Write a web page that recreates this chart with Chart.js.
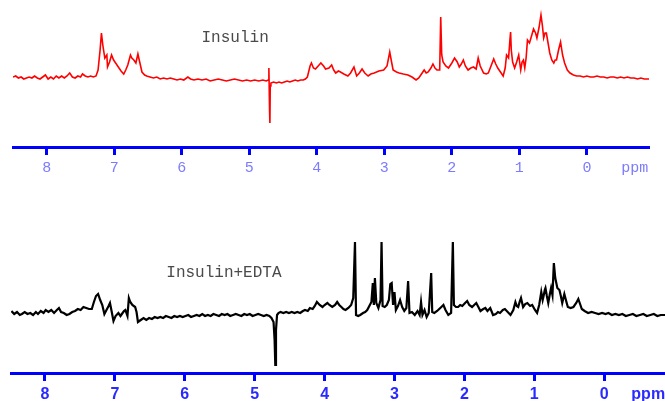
<!DOCTYPE html>
<html>
<head>
<meta charset="utf-8">
<script src="https://cdn.jsdelivr.net/npm/chart.js@4.4.1/dist/chart.umd.min.js"></script>
<style>
  html, body { margin: 0; padding: 0; background: #fff; }
  #wrap { position: relative; width: 665px; height: 401px; overflow: hidden; }
  #top { position: absolute; left: 0; top: 0; }
  #bottom { position: absolute; left: 0; top: 200px; }
</style>
</head>
<body>
<div id="wrap">
  <canvas id="top" width="665" height="200"></canvas>
  <canvas id="bottom" width="665" height="201"></canvas>
</div>
<script>
// chemical shift axis ticks (ppm)
const tickValues = [8, 7, 6, 5, 4, 3, 2, 1, 0];

// Insulin spectrum, intensity in arbitrary units
const insulinPpm = [8.50, 8.46, 8.42, 8.38, 8.34, 8.30, 8.26, 8.22, 8.18, 8.14, 8.10, 8.06, 8.02, 7.98, 7.94, 7.90, 7.86, 7.82, 7.78, 7.74,
  7.70, 7.66, 7.62, 7.58, 7.54, 7.50, 7.47, 7.43, 7.39, 7.35, 7.31, 7.27, 7.24, 7.21, 7.19, 7.17, 7.14, 7.11, 7.10, 7.07,
  7.04, 7.01, 6.98, 6.94, 6.90, 6.86, 6.83, 6.80, 6.76, 6.74, 6.71, 6.68, 6.65, 6.62, 6.59, 6.55, 6.52, 6.47, 6.42, 6.37,
  6.32, 6.27, 6.22, 6.17, 6.12, 6.07, 6.02, 5.97, 5.91, 5.87, 5.82, 5.76, 5.70, 5.64, 5.58, 5.52, 5.46, 5.40, 5.34, 5.28,
  5.22, 5.16, 5.10, 5.04, 4.98, 4.92, 4.86, 4.80, 4.75, 4.72, 4.71, 4.70, 4.695, 4.69, 4.68, 4.64, 4.60, 4.56, 4.52, 4.48,
  4.44, 4.40, 4.36, 4.32, 4.28, 4.24, 4.20, 4.17, 4.14, 4.10, 4.08, 4.05, 4.02, 3.98, 3.94, 3.90, 3.87, 3.82, 3.78, 3.75,
  3.72, 3.68, 3.65, 3.60, 3.54, 3.50, 3.45, 3.41, 3.37, 3.33, 3.29, 3.24, 3.20, 3.15, 3.08, 3.01, 2.96, 2.92, 2.89, 2.87,
  2.82, 2.78, 2.72, 2.65, 2.59, 2.53, 2.49, 2.46, 2.41, 2.38, 2.35, 2.31, 2.28, 2.25, 2.22, 2.18, 2.165, 2.15, 2.13, 2.09,
  2.05, 2.00, 1.96, 1.92, 1.89, 1.86, 1.83, 1.80, 1.76, 1.72, 1.68, 1.64, 1.61, 1.58, 1.53, 1.49, 1.46, 1.42, 1.38, 1.35,
  1.32, 1.28, 1.24, 1.21, 1.19, 1.16, 1.14, 1.13, 1.12, 1.10, 1.07, 1.04, 1.01, 0.98, 0.96, 0.94, 0.92, 0.90, 0.88, 0.85,
  0.82, 0.79, 0.76, 0.74, 0.71, 0.68, 0.66, 0.64, 0.62, 0.60, 0.57, 0.55, 0.52, 0.49, 0.47, 0.45, 0.42, 0.39, 0.36, 0.33,
  0.29, 0.25, 0.20, 0.15, 0.10, 0.05, 0.00, -0.05, -0.10, -0.15, -0.20, -0.25, -0.30, -0.35, -0.40, -0.45, -0.50, -0.55, -0.60, -0.65,
  -0.70, -0.75, -0.80, -0.85, -0.92];
const insulinVal = [3, 4, 2, 3, 1, 2, 3, 2, 4, 2, 1, 3, 5, 1, 3, 1, 4, 2, 4, 2,
  4, 7, 3, 2, 4, 3, 6, 4, 3, 4, 3, 4, 10, 30, 47, 35, 22, 25, 13, 18,
  25, 20, 17, 13, 9, 6, 10, 15, 25, 22, 20, 17, 26, 17, 8, 5, 4, 3, 2, 3,
  1, 2, 1, 2, 1, 0, 1, 0, 3, 1, 0, 1, 0, 1, -1, 0, 1, 0, -1, 0,
  1, 0, -1, 0, -1, 0, -1, 0, -1, 0, 12, -30, -43, -6, -3, -2, -3, -2, -3, -2,
  -1, -2, -1, 0, -1, 0, 0, 1, 3, 14, 17, 12, 11, 14, 17, 14, 11, 12, 15, 10,
  7, 9, 8, 6, 4, 7, 13, 4, 7, 11, 7, 4, 6, 7, 9, 10, 14, 28, 17, 10,
  8, 7, 6, 5, 3, 0, 2, 5, 10, 7, 8, 12, 16, 12, 10, 10, 63, 25, 18, 14,
  12, 17, 22, 18, 13, 16, 20, 14, 10, 12, 13, 11, 22, 14, 7, 6, 7, 14, 21, 16,
  12, 8, 4, 12, 25, 22, 40, 48, 30, 18, 12, 18, 25, 10, 18, 20, 12, 22, 40, 37,
  44, 51, 47, 42, 52, 65, 55, 42, 47, 47, 35, 27, 20, 17, 20, 20, 30, 38, 25, 17,
  10, 7, 5, 4, 4, 3, 4, 3, 3, 4, 3, 3, 2, 3, 3, 2, 3, 2, 3, 2,
  2, 1, 2, 1, 1];

// Insulin+EDTA spectrum (black trace)
const edtaPpm = [8.48, 8.44, 8.40, 8.36, 8.33, 8.29, 8.25, 8.21, 8.17, 8.13, 8.10, 8.06, 8.02, 7.99, 7.95, 7.91, 7.87, 7.83, 7.80, 7.77,
  7.73, 7.69, 7.65, 7.61, 7.57, 7.53, 7.49, 7.45, 7.41, 7.37, 7.33, 7.30, 7.27, 7.24, 7.21, 7.18, 7.15, 7.12, 7.09, 7.07,
  7.05, 7.02, 6.99, 6.95, 6.92, 6.90, 6.87, 6.85, 6.82, 6.80, 6.78, 6.75, 6.71, 6.69, 6.67, 6.63, 6.59, 6.55, 6.51, 6.47,
  6.43, 6.39, 6.35, 6.31, 6.27, 6.23, 6.19, 6.15, 6.11, 6.07, 6.03, 5.99, 5.95, 5.91, 5.87, 5.83, 5.79, 5.75, 5.71, 5.67,
  5.63, 5.59, 5.55, 5.51, 5.47, 5.43, 5.39, 5.35, 5.31, 5.27, 5.23, 5.19, 5.15, 5.11, 5.07, 5.03, 4.99, 4.95, 4.91, 4.87,
  4.83, 4.79, 4.76, 4.73, 4.715, 4.705, 4.695, 4.68, 4.66, 4.63, 4.59, 4.55, 4.51, 4.47, 4.43, 4.39, 4.35, 4.31, 4.28, 4.24,
  4.21, 4.17, 4.14, 4.11, 4.07, 4.03, 4.00, 3.96, 3.93, 3.89, 3.85, 3.82, 3.79, 3.76, 3.73, 3.70, 3.66, 3.62, 3.59, 3.565,
  3.55, 3.52, 3.49, 3.45, 3.42, 3.39, 3.36, 3.33, 3.31, 3.295, 3.28, 3.26, 3.23, 3.20, 3.185, 3.17, 3.14, 3.11, 3.08, 3.06,
  3.04, 3.02, 3.00, 2.98, 2.95, 2.92, 2.89, 2.86, 2.83, 2.805, 2.785, 2.75, 2.71, 2.67, 2.64, 2.62, 2.60, 2.57, 2.54, 2.51,
  2.475, 2.46, 2.43, 2.39, 2.36, 2.33, 2.30, 2.27, 2.23, 2.19, 2.165, 2.15, 2.12, 2.09, 2.06, 2.03, 1.99, 1.96, 1.93, 1.89,
  1.86, 1.83, 1.80, 1.77, 1.73, 1.70, 1.67, 1.63, 1.59, 1.55, 1.52, 1.49, 1.45, 1.42, 1.38, 1.34, 1.30, 1.27, 1.25, 1.23,
  1.21, 1.19, 1.16, 1.13, 1.10, 1.06, 1.03, 0.99, 0.96, 0.93, 0.90, 0.88, 0.87, 0.85, 0.84, 0.82, 0.80, 0.78, 0.76, 0.74,
  0.72, 0.70, 0.67, 0.64, 0.62, 0.60, 0.57, 0.54, 0.52, 0.48, 0.44, 0.40, 0.37, 0.34, 0.32, 0.28, 0.23, 0.18, 0.13, 0.08,
  0.03, -0.02, -0.06, -0.11, -0.16, -0.21, -0.26, -0.31, -0.36, -0.41, -0.46, -0.51, -0.56, -0.61, -0.66, -0.71, -0.76, -0.81, -0.87];
const edtaVal = [2, -1, 1, -2, -1, 1, -1, 0, -2, 1, -1, 2, 0, 3, 1, 3, 0, 3, 5, 1,
  0, -2, -1, 1, 2, 4, 3, 6, 5, 4, 4, 11, 17, 19, 13, 8, -1, 3, 7, 10,
  3, -8, -3, 0, -3, -1, 2, 3, -3, 15, 11, 8, 6, 1, -9, -7, -5, -7, -5, -6,
  -4, -5, -4, -5, -3, -4, -5, -3, -4, -3, -4, -3, -2, -4, -3, -2, -3, -1, -3, -2,
  -3, -1, -2, -3, -1, -2, -1, -3, -2, -1, -2, -3, -1, -2, -1, -3, -2, -1, -2, -3,
  -2, -3, -5, -9, -27, -52, -17, -2, 0, 1, 0, 1, 0, 1, 0, 1, 0, 2, 3, 2,
  5, 4, 7, 11, 8, 6, 8, 10, 8, 6, 8, 11, 8, 6, 4, 3, 5, 8, 15, 71,
  -2, -3, -2, 0, 1, 3, 7, 11, 30, 8, 35, 10, 5, 13, 71, 7, 6, 8, 13, 29,
  30, 8, 21, 3, 7, 13, 6, 2, 5, 32, 0, 1, -2, 2, -2, 11, -2, 3, -4, 0,
  40, 1, 0, 2, 4, 6, 8, 3, -2, 0, 71, 8, 6, 6, 8, 7, 10, 12, 8, 6,
  8, 10, 6, 2, 4, 5, 2, 5, -2, -1, 1, 0, 3, 4, 1, -2, 3, 11, 7, 6,
  11, 15, 6, 9, 10, 7, 8, 3, 0, 8, 21, 13, 16, 23, 25, 17, 10, 18, 25, 18,
  50, 35, 25, 23, 17, 10, 19, 11, 6, 5, 6, 10, 14, 8, 4, 2, 0, 1, 0, -1,
  0, -1, 0, -2, -1, -2, -1, -3, -2, -1, -3, -2, -1, -3, -2, -1, -3, -2, -2];

const toPoints = (xs, ys) => xs.map((x, i) => ({ x: x, y: ys[i] }));

// draws the spectrum names and the "ppm" unit as canvas text
const labelPlugin = {
  id: 'specLabels',
  afterDraw(chart, args, opts) {
    const { ctx, scales } = chart;
    ctx.save();
    (opts.items || []).forEach(item => {
      const px = scales.x.getPixelForValue(item.ppm);
      const py = item.val !== undefined ? scales.y.getPixelForValue(item.val) : chart.chartArea.bottom + item.below;
      ctx.font = item.font;
      ctx.fillStyle = item.color;
      ctx.textAlign = 'center';
      ctx.textBaseline = 'middle';
      ctx.fillText(item.text, px, py);
    });
    ctx.restore();
  }
};

function makeSpectrum(canvas, cfg) {
  return new Chart(canvas, {
    type: 'line',
    data: {
      datasets: [{
        data: toPoints(cfg.xs, cfg.ys),
        borderColor: cfg.lineColor,
        borderWidth: cfg.lineWidth,
        pointRadius: 0,
        tension: 0,
        fill: false
      }]
    },
    options: {
      responsive: false,
      animation: false,
      devicePixelRatio: 1,
      layout: { padding: cfg.padding },
      plugins: {
        legend: { display: false },
        tooltip: { enabled: false },
        specLabels: { items: cfg.labels }
      },
      scales: {
        x: {
          type: 'linear',
          reverse: true,
          min: cfg.xMin,
          max: cfg.xMax,
          afterFit: (s) => { s.height = cfg.axisHeight; },
          afterBuildTicks: (s) => { s.ticks = tickValues.map(v => ({ value: v })); },
          border: { color: '#0000ff', width: 3 },
          grid: {
            drawOnChartArea: false,
            drawTicks: true,
            tickLength: 8,
            tickWidth: 3,
            tickColor: '#0000ff'
          },
          ticks: {
            autoSkip: false,
            maxRotation: 0,
            padding: cfg.tickPad,
            color: cfg.tickColor,
            font: cfg.tickFont,
            callback: (v) => String(v)
          }
        },
        y: {
          display: false,
          min: cfg.yMin,
          max: cfg.yMax
        }
      }
    },
    plugins: [labelPlugin]
  });
}

makeSpectrum(document.getElementById('top'), {
  xs: insulinPpm,
  ys: insulinVal,
  lineColor: '#ff0000',
  lineWidth: 1.6,
  padding: { left: 13, right: 16, top: 5, bottom: 0 },
  xMin: -0.92,
  xMax: 8.5,
  yMin: -67,
  yMax: 75,
  axisHeight: 53,
  tickPad: 4,
  tickColor: '#7b7bff',
  tickFont: { family: "'Liberation Mono', 'DejaVu Sans Mono', monospace", size: 15 },
  labels: [
    { text: 'Insulin', ppm: 5.21, val: 42, font: "16px 'Liberation Mono', monospace", color: '#4a4a4a' },
    { text: 'ppm', ppm: -0.71, below: 21, font: "15px 'Liberation Mono', monospace", color: '#7b7bff' }
  ]
});

makeSpectrum(document.getElementById('bottom'), {
  xs: edtaPpm,
  ys: edtaVal,
  lineColor: '#000000',
  lineWidth: 2.2,
  padding: { left: 11, right: 0, top: 5, bottom: 0 },
  xMin: -0.87,
  xMax: 8.486,
  yMin: -60,
  yMax: 108,
  axisHeight: 28,
  tickPad: 4,
  tickColor: '#2a2aff',
  tickFont: { family: "'Liberation Sans', Arial, sans-serif", size: 16, weight: 'bold' },
  labels: [
    { text: 'Insulin+EDTA', ppm: 5.44, val: 40, font: "16px 'Liberation Mono', monospace", color: '#4a4a4a' },
    { text: 'ppm', ppm: -0.63, below: 22, font: "bold 16px 'Liberation Sans', Arial, sans-serif", color: '#2a2aff' }
  ]
});
</script>
</body>
</html>
